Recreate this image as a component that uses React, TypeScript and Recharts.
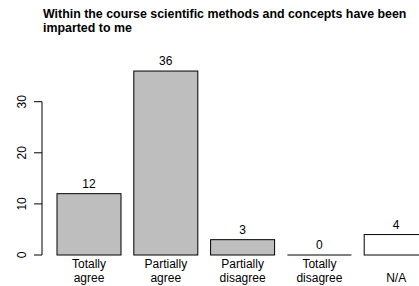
import { Bar, BarChart, Cell, LabelList, ReferenceLine, XAxis, YAxis } from "recharts";

const categories = ["Totally\nagree", "Partially\nagree", "Partially\ndisagree", "Totally\ndisagree", "\nN/A"];
const counts = [12, 36, 3, 0, 4];
const yTicks = [0, 10, 20, 30];
const title = ["Within the course scientific methods and concepts have been", "imparted to me"];

const data = categories.map((label, i) => ({ label, count: counts[i] }));
const fills = ["#BEBEBE", "#BEBEBE", "#BEBEBE", "#BEBEBE", "#FFFFFF"];
const font = "'Liberation Sans', Arial, sans-serif";

function BarShape(p: any) {
  const { x, y, width, height, fill } = p;
  if (!height) return <line x1={x} x2={x + width} y1={y} y2={y} stroke="#000" strokeWidth={1} />;
  return <rect x={x} y={y} width={width} height={height} fill={fill} stroke="#000" strokeWidth={1} />;
}

function CatTick({ x, y, payload }: any) {
  const lines = String(payload.value).split("\n");
  return <text x={x} y={y} textAnchor="middle" fontSize={12} fontFamily={font} fill="#000">
    {lines.map((l, i) => <tspan key={i} x={x} y={y + 13 + i * 13.5}>{l}</tspan>)}
  </text>;
}

function ValTick({ x, y, payload }: any) {
  return <text x={x - 8} y={y} transform={`rotate(-90 ${x - 8} ${y})`} textAnchor="middle" fontSize={12} fontFamily={font} fill="#000">{payload.value}</text>;
}

export default function App() {
  return <div style={{ position: "absolute", left: 0, top: 0, width: 419, height: 286, overflow: "hidden", background: "#fff" }}>
    <div style={{ position: "absolute", left: 43, top: 7, fontFamily: font, fontWeight: "bold", fontSize: 12.4, lineHeight: "14px", whiteSpace: "nowrap", color: "#000" }}>
      {title.map((t) => <div key={t}>{t}</div>)}
    </div>
    <BarChart width={440} height={286} data={data} margin={{ top: 50.6, right: 5.4, bottom: 0, left: 0 }} barCategoryGap={6.4}>
      <XAxis dataKey="label" interval={0} axisLine={false} tickLine={false} tickSize={0} tickMargin={0} height={31} padding={{ left: 8.6, right: 0 }} tick={<CatTick />} />
      <XAxis xAxisId="edge" type="number" domain={[0, 1]} hide />
      <YAxis domain={[0, 40]} ticks={yTicks} width={42} axisLine={false} tickLine={{ stroke: "#000" }} tickSize={8} tickMargin={0} tick={<ValTick />} />
      <ReferenceLine xAxisId="edge" segment={[{ x: 0, y: 0 }, { x: 0, y: 30 }]} stroke="#000" strokeWidth={1} ifOverflow="visible" />
      <Bar dataKey="count" shape={<BarShape />} isAnimationActive={false}>
        {data.map((d, i) => <Cell key={d.label} fill={fills[i]} />)}
        <LabelList dataKey="count" position="top" offset={6} fontSize={12} fontFamily={font} fill="#000" />
      </Bar>
    </BarChart>
  </div>;
}
